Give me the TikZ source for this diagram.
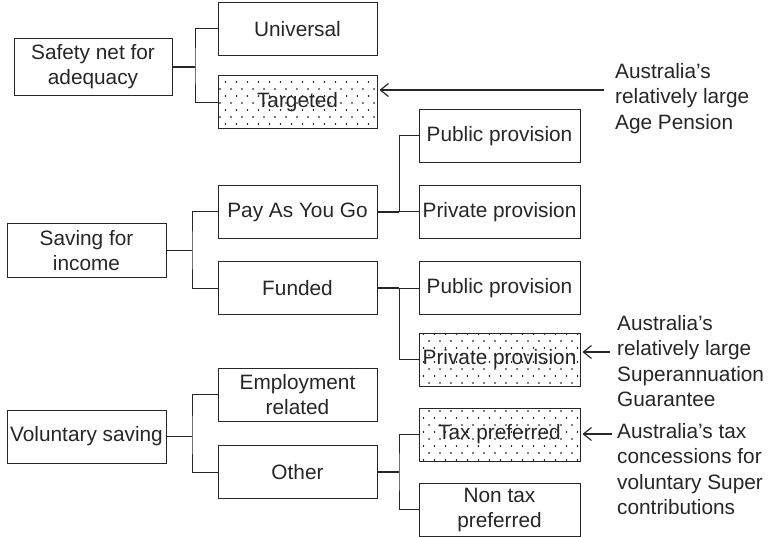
\documentclass[tikz,border=0pt]{standalone}
\usepackage{fontspec}
\setmainfont{Liberation Sans}
\usetikzlibrary{arrows.meta, patterns}

\pgfdeclarepatternformonly{sparsedots}{\pgfpoint{-1pt}{-1pt}}{\pgfpoint{10pt}{10pt}}{\pgfpoint{11pt}{14pt}}{
    \pgfpathcircle{\pgfpoint{0pt}{0pt}}{0.95pt}
    \pgfpathcircle{\pgfpoint{5.5pt}{7pt}}{0.95pt}
    \pgfusepath{fill}
}

\begin{document}
\begin{tikzpicture}[
    x=1pt,
    y=-1pt,
    box/.style={draw=black!85, line width=1pt, minimum width=159pt, minimum height=53pt,
        inner sep=2pt, align=center, text=black!85, font=\fontsize{20.8}{25}\selectfont},
    wide/.style={box, minimum width=161pt},
    dotbox/.style={wide, pattern=sparsedots, pattern color=black},
    note/.style={anchor=north west, inner sep=0pt, align=left, text=black!85,
        font=\fontsize{20.8}{25.5}\selectfont},
    link/.style={draw=black!85, line width=1pt},
    stem/.style={draw=black!85, line width=1.3pt},
    pointer/.style={draw=black!85, line width=1.2pt, shorten >=2pt,
        -{Straight Barb[length=8pt, width=13pt]}},
]

    \useasboundingbox (0,0) rectangle (770,537);

    % first column
    \node[box, minimum width=158pt, minimum height=57pt] (safety) at (93,67)    {Safety net for\\adequacy};
    \node[box]                                           (saving) at (86.5,250.5) {Saving for\\income};
    \node[box]                                           (volun)  at (86.5,436.5) {Voluntary saving};

    % second column
    \node[box]    (universal) at (297.5,29)    {Universal};
    \node[dotbox, minimum width=159pt] (targeted)  at (297.5,102.5) {Targeted};
    \node[box]    (payg)      at (297.5,212)   {Pay As You Go};
    \node[box]    (funded)    at (297.5,288)   {Funded};
    \node[box]    (employ)    at (297.5,394.5) {Employment\\related};
    \node[box]    (other)     at (297.5,472)   {Other};

    % third column
    \node[wide]   (pubA)   at (499.5,136)   {Public provision};
    \node[wide]   (privA)  at (499.5,212)   {Private provision};
    \node[wide]   (pubB)   at (499.5,288)   {Public provision};
    \node[dotbox] (privB)  at (499.5,359.5) {Private provision};
    \node[dotbox] (taxp)   at (499.5,434.5) {Tax preferred};
    \node[wide]   (nontax) at (499.5,509.5) {Non tax\\preferred};

    % notes
    \node[note] (noteA) at (615,63)  {Australia’s\\relatively large\\Age Pension};
    \node[note] (noteB) at (617,315) {Australia’s\\relatively large\\Superannuation\\Guarantee};
    \node[note] (noteC) at (617,423) {Australia’s tax\\concessions for\\voluntary Super\\contributions};

    \coordinate (jsafety) at (195,67);
    \coordinate (jsaving) at (192,250.5);
    \coordinate (jvolun)  at (192,436.5);
    \coordinate (jpayg)   at (399,212);
    \coordinate (jfunded) at (399,288);
    \coordinate (jother)  at (399,472);

    \path[stem] (safety.east) -- (jsafety);
    \path[stem] (saving.east) -- (jsaving);
    \path[stem] (volun.east)  -- (jvolun);
    \path[stem] (payg.east)   -- (jpayg);
    \path[stem] (funded.east) -- (jfunded);
    \path[stem] (other.east)  -- (jother);

    \path[link] (universal.west) -| (jsafety) |- (targeted.west);
    \path[link] (payg.west)      -| (jsaving) |- (funded.west);
    \path[link] (employ.west)    -| (jvolun)  |- (other.west);
    \path[link] (pubA.west)      -| (jpayg)   -- (privA.west);
    \path[link] (pubB.west)      -- (jfunded) |- (privB.west);
    \path[link] (taxp.west)      -| (jother)  |- (nontax.west);

    \coordinate (tipA) at (604,90);
    \coordinate (tipB) at (610,352);
    \coordinate (tipC) at (612,434);

    \path[pointer] (tipA) -- (tipA -| targeted.east);
    \path[pointer] (tipB) -- (tipB -| privB.east);
    \path[pointer] (tipC) -- (tipC -| taxp.east);

\end{tikzpicture}
\end{document}
